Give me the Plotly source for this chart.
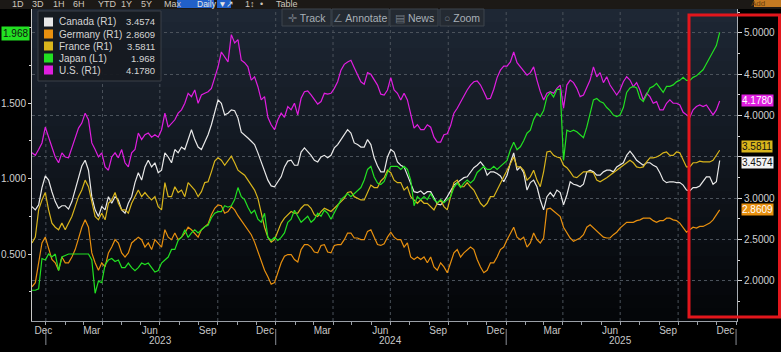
import pandas as pd
import plotly.graph_objects as go

# ---------------- data (10y government bond yields, %) ----------------
START, END = "2022-12-10", "2025-12-06"

us = ([3.55, 3.52, 3.59, 3.67, 3.86, 3.74, 3.62, 3.50, 3.43, 3.55,
       3.50, 3.49, 3.61, 3.74, 3.85, 3.91, 4.03, 3.95, 3.67, 3.59,
       3.50, 3.55, 3.38, 3.34, 3.50, 3.55, 3.49, 3.59, 3.43, 3.38,
       3.55, 3.59, 3.79, 3.71, 3.77, 3.79, 3.74, 3.77, 3.74, 3.83,
       4.03, 3.86, 3.91, 3.95, 4.03, 4.07, 4.15, 4.27, 4.23, 4.31,
       4.15, 4.25, 4.27, 4.29, 4.33]
      + [4.47, 4.59, 4.77, 4.71, 4.65, 4.98, 4.88, 4.92, 4.67, 4.64,
         4.59, 4.43, 4.47, 4.35, 4.19, 4.23, 3.98, 3.89, 3.83, 3.95,
         4.03, 3.98, 4.11, 4.07, 4.15, 4.01, 4.21, 4.29, 4.30, 4.25,
         4.20, 4.14, 4.17, 4.27, 4.26, 4.27, 4.33, 4.41, 4.55, 4.62,
         4.65, 4.67, 4.58, 4.49, 4.41, 4.38, 4.52, 4.50, 4.44, 4.37,
         4.26, 4.25]
      + [4.31, 4.46, 4.31, 4.27, 4.19, 4.27, 4.19, 4.03, 3.85, 3.89,
         3.83, 3.83, 3.89, 3.86, 3.74, 3.68, 3.68, 3.77, 3.78, 3.88,
         4.03, 4.09, 4.17, 4.25, 4.31, 4.37, 4.41, 4.42, 4.37, 4.29,
         4.20, 4.21, 4.32, 4.46, 4.55, 4.60, 4.60, 4.65, 4.77, 4.64,
         4.59, 4.53, 4.49, 4.52, 4.59, 4.43, 4.29, 4.19, 4.27, 4.29,
         4.27, 4.33, 4.37]
      + [4.09, 4.37, 4.43, 4.40, 4.33, 4.23, 4.25, 4.33, 4.43, 4.59,
         4.47, 4.52, 4.40, 4.47, 4.37, 4.31, 4.25, 4.31, 4.41, 4.47,
         4.43, 4.35, 4.40, 4.31, 4.19, 4.27, 4.23, 4.15, 4.17, 4.07,
         4.07, 4.15, 4.19, 4.15, 4.15, 4.13, 4.04, 4.01, 3.98, 4.07,
         4.11, 4.13, 4.11, 4.13, 4.07, 4.01, 4.07, 4.178])

canada = ([2.90, 2.86, 2.92, 3.13, 3.27, 3.22, 3.08, 2.96, 2.88, 2.91,
           2.91, 2.87, 2.96, 3.10, 3.27, 3.39, 3.46, 3.34, 3.02, 2.86,
           2.78, 2.90, 2.86, 3.02, 2.94, 3.02, 2.98, 2.86, 2.82, 2.94,
           3.02, 3.19, 3.31, 3.22, 3.38, 3.46, 3.38, 3.43, 3.31, 3.34,
           3.55, 3.50, 3.43, 3.59, 3.55, 3.62, 3.59, 3.71, 3.83, 3.71,
           3.62, 3.59, 3.67, 3.77, 3.89]
          + [4.04, 4.19, 4.15, 4.01, 4.03, 4.07, 4.06, 3.97, 3.80, 3.77,
             3.73, 3.69, 3.65, 3.55, 3.44, 3.32, 3.22, 3.15, 3.14, 3.20,
             3.26, 3.38, 3.45, 3.46, 3.40, 3.40, 3.56, 3.61, 3.57, 3.52,
             3.46, 3.44, 3.50, 3.52, 3.49, 3.52, 3.61, 3.65, 3.71, 3.77,
             3.83, 3.79, 3.67, 3.65, 3.62, 3.62, 3.71, 3.65, 3.49, 3.39,
             3.32, 3.32]
          + [3.50, 3.59, 3.56, 3.44, 3.40, 3.38, 3.28, 3.16, 3.08, 3.07,
             3.09, 3.05, 3.08, 3.08, 3.00, 2.93, 2.92, 2.96, 3.02, 3.10,
             3.16, 3.19, 3.22, 3.25, 3.26, 3.32, 3.37, 3.40, 3.44, 3.39,
             3.28, 3.32, 3.32, 3.30, 3.27, 3.20, 3.28, 3.43, 3.55, 3.34,
             3.38, 3.31, 3.10, 3.19, 3.22, 3.14, 2.98, 2.86, 3.02, 3.07,
             3.02, 3.10, 3.07]
          + [2.92, 3.04, 3.20, 3.17, 3.16, 3.14, 3.17, 3.32, 3.34, 3.32,
             3.28, 3.28, 3.32, 3.34, 3.34, 3.32, 3.38, 3.40, 3.43, 3.52,
             3.57, 3.52, 3.46, 3.43, 3.40, 3.43, 3.43, 3.40, 3.38, 3.31,
             3.22, 3.19, 3.20, 3.20, 3.19, 3.19, 3.16, 3.10, 3.09, 3.13,
             3.13, 3.15, 3.20, 3.26, 3.26, 3.17, 3.20, 3.4574])

france = ([2.46, 2.53, 2.86, 2.98, 3.07, 2.86, 2.70, 2.65, 2.62, 2.70,
           2.62, 2.70, 2.78, 2.90, 3.02, 3.10, 3.22, 3.14, 2.94, 2.78,
           2.74, 2.82, 2.74, 2.94, 2.98, 3.07, 2.94, 2.86, 2.86, 2.82,
           2.94, 3.02, 3.10, 3.02, 3.07, 3.02, 2.98, 3.02, 2.90, 2.86,
           3.19, 3.02, 3.02, 3.14, 3.07, 3.10, 3.02, 3.19, 3.14, 3.10,
           3.02, 3.08, 3.19, 3.20, 3.32]
          + [3.45, 3.49, 3.46, 3.40, 3.46, 3.51, 3.43, 3.34, 3.31, 3.28,
             3.22, 3.16, 3.10, 3.00, 2.84, 2.65, 2.53, 2.47, 2.50, 2.59,
             2.70, 2.76, 2.80, 2.84, 2.82, 2.82, 2.88, 2.92, 2.92, 2.88,
             2.80, 2.78, 2.84, 2.88, 2.86, 2.84, 2.88, 2.92, 2.96, 3.00,
             3.07, 3.08, 3.02, 3.00, 2.98, 2.98, 3.08, 3.16, 3.13, 3.13,
             3.21, 3.25]
          + [3.34, 3.31, 3.22, 3.19, 3.19, 3.10, 3.14, 3.02, 2.98, 2.94,
             2.98, 2.94, 2.94, 2.90, 2.86, 2.94, 2.98, 2.90, 2.86, 3.02,
             3.19, 3.22, 3.14, 3.14, 3.19, 3.14, 3.10, 3.02, 2.94, 2.90,
             2.94, 3.02, 3.02, 3.10, 3.19, 3.26, 3.34, 3.43, 3.50, 3.38,
             3.38, 3.34, 3.22, 3.26, 3.34, 3.22, 3.14, 3.32, 3.56, 3.57,
             3.52, 3.50, 3.49]
          + [3.40, 3.37, 3.32, 3.26, 3.25, 3.28, 3.32, 3.32, 3.32, 3.31,
             3.22, 3.20, 3.22, 3.25, 3.28, 3.31, 3.34, 3.38, 3.40, 3.44,
             3.46, 3.43, 3.38, 3.37, 3.38, 3.44, 3.49, 3.49, 3.50, 3.52,
             3.55, 3.56, 3.52, 3.52, 3.56, 3.55, 3.46, 3.38, 3.38, 3.43,
             3.43, 3.45, 3.44, 3.44, 3.44, 3.46, 3.52, 3.5811])

germany = ([1.93, 1.98, 2.22, 2.46, 2.53, 2.38, 2.26, 2.22, 2.13, 2.29,
            2.22, 2.22, 2.29, 2.38, 2.53, 2.65, 2.74, 2.65, 2.34, 2.22,
            2.13, 2.22, 2.17, 2.34, 2.41, 2.50, 2.46, 2.34, 2.29, 2.34,
            2.46, 2.50, 2.53, 2.50, 2.41, 2.46, 2.38, 2.50, 2.46, 2.41,
            2.62, 2.53, 2.50, 2.58, 2.50, 2.53, 2.58, 2.65, 2.62, 2.58,
            2.53, 2.62, 2.65, 2.69, 2.80]
           + [2.88, 2.92, 2.91, 2.82, 2.84, 2.90, 2.86, 2.79, 2.73, 2.67,
              2.61, 2.56, 2.47, 2.35, 2.23, 2.13, 2.05, 1.96, 1.98, 2.11,
              2.22, 2.30, 2.32, 2.32, 2.26, 2.23, 2.38, 2.44, 2.44, 2.41,
              2.35, 2.34, 2.43, 2.44, 2.35, 2.34, 2.43, 2.44, 2.44, 2.50,
              2.58, 2.58, 2.52, 2.52, 2.50, 2.50, 2.60, 2.62, 2.52, 2.44,
              2.43, 2.45]
           + [2.53, 2.59, 2.53, 2.50, 2.50, 2.41, 2.46, 2.29, 2.26, 2.29,
              2.26, 2.29, 2.22, 2.29, 2.17, 2.13, 2.22, 2.17, 2.10, 2.22,
              2.34, 2.38, 2.29, 2.34, 2.38, 2.41, 2.38, 2.26, 2.17, 2.10,
              2.13, 2.22, 2.22, 2.29, 2.38, 2.41, 2.50, 2.58, 2.65, 2.53,
              2.50, 2.53, 2.41, 2.46, 2.58, 2.50, 2.46, 2.52, 2.87, 2.88,
              2.85, 2.81, 2.78]
           + [2.65, 2.58, 2.52, 2.48, 2.50, 2.52, 2.56, 2.65, 2.68, 2.64,
              2.61, 2.56, 2.53, 2.52, 2.52, 2.56, 2.59, 2.64, 2.68, 2.71,
              2.71, 2.71, 2.73, 2.74, 2.76, 2.76, 2.76, 2.73, 2.71, 2.73,
              2.73, 2.76, 2.76, 2.74, 2.73, 2.70, 2.65, 2.59, 2.62, 2.65,
              2.64, 2.66, 2.66, 2.68, 2.70, 2.74, 2.80, 2.8609])

japan = ([0.26, 0.26, 0.27, 0.47, 0.46, 0.50, 0.48, 0.50, 0.39, 0.48,
          0.49, 0.50, 0.50, 0.50, 0.50, 0.50, 0.50, 0.50, 0.46, 0.24,
          0.32, 0.31, 0.43, 0.46, 0.47, 0.45, 0.46, 0.41, 0.41, 0.44,
          0.41, 0.39, 0.41, 0.44, 0.43, 0.44, 0.41, 0.38, 0.39, 0.44,
          0.46, 0.48, 0.53, 0.53, 0.59, 0.61, 0.66, 0.61, 0.64, 0.66,
          0.64, 0.66, 0.68, 0.69, 0.74]
         + [0.77, 0.78, 0.78, 0.82, 0.81, 0.82, 0.86, 0.94, 0.88, 0.86,
            0.81, 0.77, 0.79, 0.73, 0.71, 0.77, 0.61, 0.59, 0.61, 0.59,
            0.61, 0.64, 0.71, 0.73, 0.79, 0.75, 0.71, 0.73, 0.75, 0.71,
            0.73, 0.77, 0.75, 0.79, 0.77, 0.73, 0.77, 0.81, 0.86, 0.88,
            0.90, 0.88, 0.90, 0.92, 0.94, 0.99, 1.06, 1.08, 1.01, 0.97,
            0.96, 0.98]
         + [1.04, 1.08, 1.08, 1.08, 1.06, 1.08, 1.06, 0.99, 0.82, 0.88,
            0.86, 0.88, 0.86, 0.90, 0.86, 0.84, 0.86, 0.84, 0.86, 0.88,
            0.94, 0.97, 0.94, 0.97, 0.99, 0.97, 0.99, 1.04, 1.06, 1.08,
            1.06, 1.06, 1.08, 1.06, 1.08, 1.10, 1.12, 1.19, 1.24, 1.19,
            1.21, 1.25, 1.30, 1.32, 1.39, 1.43, 1.41, 1.45, 1.54, 1.57,
            1.54, 1.59, 1.59]
         + [1.12, 1.32, 1.31, 1.32, 1.31, 1.29, 1.27, 1.34, 1.43, 1.52,
            1.53, 1.51, 1.50, 1.47, 1.45, 1.42, 1.41, 1.42, 1.47, 1.57,
            1.60, 1.61, 1.60, 1.53, 1.51, 1.55, 1.60, 1.61, 1.63, 1.60,
            1.57, 1.61, 1.61, 1.62, 1.64, 1.65, 1.67, 1.65, 1.65, 1.67,
            1.68, 1.70, 1.72, 1.76, 1.80, 1.83, 1.88, 1.968])

names = ["Canada (R1)", "Germany (R1)", "France (R1)", "Japan (L1)", "U.S. (R1)"]
last_text = ["3.4574", "2.8609", "3.5811", "1.968", "4.1780"]
colors = ["#e8e8e8", "#e8900f", "#d9b51c", "#22e022", "#e01ee0"]
values = [canada, germany, france, japan, us]
axes = ["y", "y", "y", "y2", "y"]

right_ticks = [2.0, 2.5, 3.0, 3.5, 4.0, 4.5, 5.0]
# the 3.5000 label sits hidden behind the last-value tags in the original
right_tick_text = ["2.0000", "2.5000", "3.0000", "", "4.0000", "4.5000", "5.0000"]
left_ticks = [0.5, 1.0, 1.5]
month_label_dates = ["2022-12-28", "2023-03-15", "2023-06-15", "2023-09-15",
                     "2023-12-15", "2024-03-15", "2024-06-15", "2024-09-15",
                     "2024-12-15", "2025-03-15", "2025-06-15", "2025-09-15",
                     "2025-12-15"]
month_label_text = ["Dec", "Mar", "Jun", "Sep"] * 3 + ["Dec"]
quarter_lines = ["2023-01-01", "2023-04-01", "2023-07-01", "2023-10-01",
                 "2024-01-01", "2024-04-01", "2024-07-01", "2024-10-01",
                 "2025-01-01", "2025-04-01", "2025-07-01", "2025-10-01"]
year_labels = ["2023", "2024", "2025"]
year_centers = ["2023-07-02", "2024-07-02", "2025-07-02"]
year_breaks = ["2023-01-01", "2024-01-01", "2025-01-01", "2026-01-01"]

# ---------------- geometry helpers (layout only) ----------------
W, H = 781, 352
ML, MR, MT, MB = 32, 44, 9, 31
PW, PH = W - ML - MR, H - MT - MB


def px(x):
    return (x - ML) / PW


def py(y):
    return (H - MB - y) / PH


FONT = "Liberation Sans"
fig = go.Figure()

for name, vals, col, ax in zip(names, values, colors, axes):
    fig.add_trace(go.Scatter(
        x=pd.date_range(START, END, periods=len(vals)), y=vals, name=name,
        mode="lines", line=dict(color=col, width=1.2), yaxis=ax,
        showlegend=False, hoverinfo="skip"))

shapes = []
# gradient background of the plotting area
top_rgb = (30, 39, 52)
bot_rgb = (4, 6, 9)
NB = 24
for k in range(NB):
    t = k / (NB - 1)
    c = tuple(int(top_rgb[j] * (1 - t) + bot_rgb[j] * t) for j in range(3))
    shapes.append(dict(type="rect", xref="paper", yref="paper", x0=0, x1=1,
                       y0=1 - (k + 1) / NB, y1=1 - k / NB, layer="below",
                       line=dict(width=0), fillcolor="rgb(%d,%d,%d)" % c))
# vertical dotted grid
for d in quarter_lines:
    shapes.append(dict(type="line", xref="x", yref="paper", x0=d, x1=d, y0=0, y1=1,
                       layer="below", line=dict(color="#4b525b", width=1, dash="dot")))
# year separators under the axis
for d in year_breaks:
    shapes.append(dict(type="line", xref="x", yref="paper", x0=d, x1=d,
                       y0=py(345), y1=py(329), line=dict(color="#8a8f96", width=1)))
# top toolbar strip
shapes.append(dict(type="rect", xref="paper", yref="paper", x0=px(0), x1=px(W),
                   y0=py(9), y1=py(-2), line=dict(width=0), fillcolor="#1c1916"))
shapes.append(dict(type="rect", xref="paper", yref="paper", x0=px(177), x1=px(214),
                   y0=py(8), y1=py(-2), line=dict(width=0), fillcolor="#2160c8"))
shapes.append(dict(type="rect", xref="paper", yref="paper", x0=px(217), x1=px(231),
                   y0=py(8), y1=py(-2), line=dict(width=0), fillcolor="#2160c8"))
shapes.append(dict(type="rect", xref="paper", yref="paper", x0=px(754), x1=px(W),
                   y0=py(7), y1=py(-2), line=dict(width=0), fillcolor="#c47a22"))
# Track / Annotate / News / Zoom buttons
btns = [(282, 331), (332, 389), (390, 438), (440, 484)]
for x0, x1 in btns:
    shapes.append(dict(type="rect", xref="paper", yref="paper", x0=px(x0), x1=px(x1),
                       y0=py(26), y1=py(9), line=dict(color="#3d444d", width=1),
                       fillcolor="#242a32"))
# legend panel
shapes.append(dict(type="rect", xref="paper", yref="paper", x0=px(38), x1=px(161),
                   y0=py(81), y1=py(11), line=dict(color="#3b4049", width=1),
                   fillcolor="rgba(22,26,33,0.95)"))
legend_rows = [22, 34, 46, 58, 70]
for yy, col in zip(legend_rows, colors):
    shapes.append(dict(type="rect", xref="paper", yref="paper", x0=px(44), x1=px(53),
                       y0=py(yy + 4.5), y1=py(yy - 4.5), line=dict(width=0),
                       fillcolor=col))
# red highlight box
shapes.append(dict(type="rect", xref="paper", yref="paper", x0=px(689), x1=px(779.5),
                   y0=py(317), y1=py(15), line=dict(color="#e3161c", width=3),
                   fillcolor="rgba(0,0,0,0)"))

ann = []
for yy, nm, vt in zip(legend_rows, names, last_text):
    ann.append(dict(xref="paper", yref="paper", x=px(57), y=py(yy), text=nm,
                    showarrow=False, xanchor="left", yanchor="middle",
                    font=dict(size=10, color="#d4d4d4", family=FONT)))
    ann.append(dict(xref="paper", yref="paper", x=px(157), y=py(yy), text=vt,
                    showarrow=False, xanchor="right", yanchor="middle",
                    font=dict(size=9.5, color="#d4d4d4", family=FONT)))

# last-value tags on the axes
tag_style = {
    "Canada (R1)": ("#f2f2f2", "#111111", -2),
    "Germany (R1)": ("#e8900f", "#ffffff", 0),
    "France (R1)": ("#d9b51c", "#111111", 4),
    "U.S. (R1)": ("#e01ee0", "#ffffff", 0),
}
for nm, vals, vt in zip(names, values, last_text):
    if nm in tag_style:
        bg, fg, ys = tag_style[nm]
        ann.append(dict(xref="paper", yref="y", x=1, y=vals[-1], text=vt,
                        showarrow=False, xanchor="left", yanchor="middle",
                        xshift=4, yshift=ys, bgcolor=bg, borderpad=0,
                        font=dict(size=10, color=fg, family=FONT)))
ann.append(dict(xref="paper", yref="y2", x=0, y=japan[-1], text=last_text[3],
                showarrow=False, xanchor="right", yanchor="middle", xshift=-2,
                yshift=-1, bgcolor="#22e022", borderpad=1,
                font=dict(size=10, color="#111111", family=FONT)))

# year labels
for d, t in zip(year_centers, year_labels):
    ann.append(dict(xref="x", yref="paper", x=d, y=py(340), text=t, showarrow=False,
                    yanchor="middle", font=dict(size=10, color="#c8c8c8", family=FONT)))

# toolbar texts
tb_items = [("1D", 10), ("3D", 30), ("1H", 51), ("6H", 71), ("YTD", 96), ("1Y", 119),
            ("5Y", 139), ("Max", 162), ("Daily ▼", 195), ("↗", 224), ("1↕", 243),
            ("•", 258), ("Table", 287)]
for t, xc in tb_items:
    ann.append(dict(xref="paper", yref="paper", x=px(xc), y=py(3.5), text=t,
                    showarrow=False, yanchor="middle",
                    font=dict(size=8.5 if xc == 195 else 9,
                              color="#e6e6e6" if xc in (195, 224) else "#cfc7bd",
                              family=FONT)))
ann.append(dict(xref="paper", yref="paper", x=px(767), y=py(3), text="Add",
                showarrow=False, yanchor="middle",
                font=dict(size=8, color="#6b3f0d", family=FONT)))
btn_text = ["✛", "∠", "▤", "○"]
btn_lbl = ["Track", "Annotate", "News", "Zoom"]
for (x0, x1), ic, lb in zip(btns, btn_text, btn_lbl):
    ann.append(dict(xref="paper", yref="paper", x=px((x0 + x1) / 2), y=py(17.5),
                    text='<span style="color:#6f7780">%s</span> %s' % (ic, lb),
                    showarrow=False, yanchor="middle",
                    font=dict(size=10.5, color="#a8b0b8", family=FONT)))

fig.update_layout(
    width=W, height=H, margin=dict(l=ML, r=MR, t=MT, b=MB, pad=0, autoexpand=False),
    paper_bgcolor="#000000", plot_bgcolor="rgba(0,0,0,0)",
    font=dict(family=FONT, size=10, color="#c8c8c8"),
    shapes=shapes, annotations=ann, showlegend=False,
    xaxis=dict(type="date", range=["2022-12-10", "2026-01-02 12:00"], automargin=False,
               tickmode="array", tickvals=month_label_dates, ticktext=month_label_text,
               ticks="", showgrid=False, zeroline=False,
               showline=True, linecolor="#9a9fa6", linewidth=1,
               tickfont=dict(size=10, color="#c8c8c8"),
               minor=dict(tickmode="array",
                          tickvals=list(pd.date_range("2023-01-01", "2026-01-01", freq="MS")),
                          ticks="outside", ticklen=3, tickcolor="#9a9fa6",
                          showgrid=False)),
    yaxis=dict(side="right", range=[1.516, 5.29], tickmode="array", automargin=False,
               tickvals=right_ticks, ticktext=right_tick_text, ticks="outside", ticklen=4,
               tickcolor="#d8d8d8", tickfont=dict(size=10, color="#d0d0d0"),
               showgrid=True, gridcolor="#4b525b", griddash="dot", gridwidth=1,
               zeroline=False, showline=True, linecolor="#a8adb3", linewidth=1,
               minor=dict(dtick=0.25, tick0=0, ticks="outside", ticklen=2,
                          tickcolor="#d8d8d8", showgrid=False)),
    yaxis2=dict(overlaying="y", side="left", range=[0.0563, 2.1225], automargin=False,
                tickmode="array", tickvals=left_ticks, tickformat=".3f",
                ticks="outside", ticklen=3, tickcolor="#d8d8d8",
                tickfont=dict(size=10, color="#d0d0d0"), showgrid=False,
                zeroline=False, showline=True, linecolor="#c8c8c8", linewidth=1,
                minor=dict(dtick=0.25, tick0=0, ticks="outside", ticklen=2,
                           tickcolor="#d8d8d8", showgrid=False)),
)

fig.write_html("out.html")
